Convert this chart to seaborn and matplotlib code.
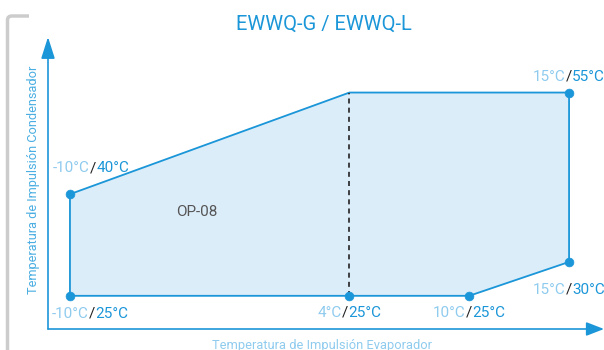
import numpy as np
import pandas as pd
import matplotlib
matplotlib.use('Agg')
import matplotlib.pyplot as plt
import seaborn as sns
from matplotlib.offsetbox import TextArea, HPacker, AnnotationBbox
from matplotlib.path import Path
from matplotlib.patches import PathPatch

sns.set_theme(style='white')
plt.rcParams['font.family'] = ['Roboto', 'DejaVu Sans']

# envelope of the operating map (evaporator temp, condenser temp)
evap_temp = [-10, -10, 4, 15, 15, 10]
cond_temp = [25, 40, 55, 55, 30, 25]

# labelled corner points
pt_evap = [-10, -10, 4, 10, 15, 15]
pt_cond = [40, 25, 25, 25, 30, 55]
pt_offset = [(-17, 26), (-18, -18), (0, -17), (0, -17), (0, -28), (0, 16)]
pt_align = [(0, 0.5), (0, 0.5), (0.5, 0.5), (0.5, 0.5), (0.5, 0.5), (0.5, 0.5)]

split_evap = 4
title = 'EWWQ-G / EWWQ-L'
zone_label = 'OP-08'
xlabel = 'Temperatura de Impulsión Evaporador'
ylabel = 'Temperatura de Impulsión Condensador'

BLUE = '#1b96d8'
LIGHT = '#8fcbee'
FILL = '#dcedfa'

W, H = 604, 350
fig = plt.figure(figsize=(W / 100, H / 100), dpi=100)
ax = fig.add_axes([48 / W, 21 / H, (W - 48) / W, (329 - 37) / H])
ax.set_xlim(-11.1, 16.75)
ax.set_ylim(20.1, 63.2)
ax.set_xticks([])
ax.set_yticks([])
for s in ax.spines.values():
    s.set_visible(False)

# axes with arrows
ax.annotate('', xy=(1, 0), xytext=(0, 0), xycoords='axes fraction',
            arrowprops=dict(arrowstyle='-|>,head_length=0.9,head_width=0.35',
                            color=BLUE, lw=1.2, shrinkA=0, shrinkB=0))
ax.annotate('', xy=(0, 1), xytext=(0, 0), xycoords='axes fraction',
            arrowprops=dict(arrowstyle='-|>,head_length=1.1,head_width=0.35',
                            color=BLUE, lw=1.2, shrinkA=0, shrinkB=0))

df = pd.DataFrame({'evap': evap_temp + evap_temp[:1], 'cond': cond_temp + cond_temp[:1]})
ax.fill(evap_temp, cond_temp, color=FILL, zorder=1)
sns.lineplot(data=df, x='evap', y='cond', sort=False, color=BLUE, lw=1.3,
             ax=ax, zorder=2, estimator=None)
ax.plot([split_evap, split_evap], [min(cond_temp), max(cond_temp)],
        ls=(0, (3, 2.5)), color='#222222', lw=1.2, zorder=2)
sns.scatterplot(x=pt_evap, y=pt_cond, color=BLUE, s=40, edgecolor=BLUE,
                ax=ax, zorder=3)
ax.set_xlabel('')
ax.set_ylabel('')

for ev, cd, off, al in zip(pt_evap, pt_cond, pt_offset, pt_align):
    parts = [TextArea(f'{ev}°C', textprops=dict(color=LIGHT, fontsize=11)),
             TextArea('/', textprops=dict(color='#222222', fontsize=11)),
             TextArea(f'{cd}°C', textprops=dict(color=BLUE, fontsize=11))]
    box = HPacker(children=parts, pad=0, sep=0, align='baseline')
    ab = AnnotationBbox(box, (ev, cd), xybox=off, boxcoords='offset pixels',
                        frameon=False, box_alignment=al, pad=0,
                        annotation_clip=False)
    ab.set_clip_on(False)
    ax.add_artist(ab)

fig.text(197 / W, 1 - 212 / H, zone_label, color='#555555', fontsize=11,
         ha='center', va='center')
fig.text(323.5 / W, 1 - 24 / H, title, color=BLUE, fontsize=14.5,
         ha='center', va='center')
fig.text(322 / W, 1 - 345 / H, xlabel, color=LIGHT, fontsize=9.3,
         ha='center', va='center')
fig.text(34 / W, 1 - 180 / H, ylabel, color='#4aaee2', fontsize=9.2,
         ha='center', va='center', rotation=90)

# grey bracket at top-left
verts = [(7.5, 0), (7.5, 330), (7.5, 334), (12, 334), (29, 334)]
codes = [Path.MOVETO, Path.LINETO, Path.CURVE3, Path.CURVE3, Path.LINETO]
verts = [(x / W, y / H) for x, y in verts]
fig.add_artist(PathPatch(Path(verts, codes), transform=fig.transFigure,
                         fill=False, edgecolor='#cccccc', lw=2.5))

fig.savefig('out.png', dpi=100)
